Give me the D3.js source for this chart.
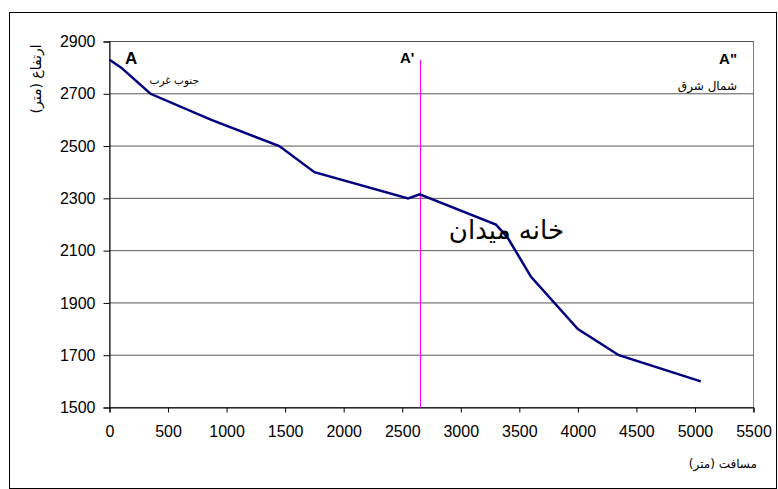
<!DOCTYPE html>
<html>
<head>
<meta charset="utf-8">
<script src="https://cdn.jsdelivr.net/npm/d3@7"></script>
<style>
  body { margin: 0; background: #fff; }
  svg { font-family: "Liberation Sans", Arial, sans-serif; }
</style>
</head>
<body>
<svg width="778" height="489"></svg>
<script>
// **** Data ****
var distance = [0, 100, 350, 870, 1450, 1750, 2550, 2650, 3300, 3400, 3600, 4000, 4350, 5050];
var elevation = [2830, 2800, 2700, 2600, 2500, 2400, 2300, 2315, 2200, 2150, 2000, 1800, 1700, 1600];
var xTicks = [0, 500, 1000, 1500, 2000, 2500, 3000, 3500, 4000, 4500, 5000, 5500];
var yTicks = [1500, 1700, 1900, 2100, 2300, 2500, 2700, 2900];
var sectionAt = 2650;

// **** Scales ****
var xScale = d3.scaleLinear().domain([0, 5500]).range([109.5, 753.5]);
var yScale = d3.scaleLinear().domain([1500, 2900]).range([407.5, 41.5]);

var svg = d3.select('svg');

// outer frame
svg.append('rect')
    .attr('x', 9.5).attr('y', 12.5)
    .attr('width', 767).attr('height', 476)
    .attr('fill', 'none').attr('stroke', '#000').attr('stroke-width', 1);

// plot area border
svg.append('rect')
    .attr('x', xScale(0)).attr('y', yScale(2900))
    .attr('width', xScale(5500) - xScale(0))
    .attr('height', yScale(1500) - yScale(2900))
    .attr('fill', 'none').attr('stroke', '#808080').attr('stroke-width', 1);

// gridlines
svg.append('g').selectAll('line')
    .data(yTicks)
    .enter().append('line')
    .attr('x1', xScale(0)).attr('x2', xScale(5500))
    .attr('y1', d => yScale(d)).attr('y2', d => yScale(d))
    .attr('stroke', '#555').attr('stroke-width', 1);

// axes
var xAxis = svg.append('g').attr('class', 'x axis')
    .attr('transform', 'translate(0,' + yScale(1500) + ')')
    .call(d3.axisBottom(xScale).tickValues(xTicks).tickSize(5).tickPadding(13).tickFormat(d => d));

var yAxis = svg.append('g').attr('class', 'y axis')
    .attr('transform', 'translate(' + xScale(0) + ',0)')
    .call(d3.axisLeft(yScale).tickValues(yTicks).tickSize(6).tickPadding(8).tickFormat(d => d));

[xAxis, yAxis].forEach(function(a) {
    a.select('.domain').attr('stroke', '#000');
    a.selectAll('.tick line').attr('stroke', '#000');
    a.selectAll('.tick text').attr('font-size', 16).attr('fill', '#000')
        .attr('font-family', '"Liberation Sans", Arial, sans-serif');
});

// section line A'
var sx = Math.round(xScale(sectionAt)) + 0.5;
svg.append('line')
    .attr('x1', sx).attr('x2', sx)
    .attr('y1', 60).attr('y2', yScale(1500))
    .attr('stroke', '#ff00ff').attr('stroke-width', 1);

// profile line
var line = d3.line()
    .x((d, i) => xScale(distance[i]))
    .y(d => yScale(d));

svg.append('path')
    .datum(elevation)
    .attr('d', line)
    .attr('fill', 'none')
    .attr('stroke', '#000080')
    .attr('stroke-width', 2.5);

// labels
svg.append('text').attr('x', 125).attr('y', 64)
    .attr('font-size', 17).attr('font-weight', 'bold').text('A');
svg.append('text').attr('x', 400).attr('y', 63)
    .attr('font-size', 15).attr('font-weight', 'bold').text("A'");
svg.append('text').attr('x', 737).attr('y', 64)
    .attr('font-size', 15).attr('font-weight', 'bold').attr('text-anchor', 'end').text('A"');

svg.append('text').attr('x', 199).attr('y', 84)
    .attr('font-size', 10.5).attr('text-anchor', 'end').attr('font-family', '"DejaVu Sans", sans-serif')
    .text('جنوب غرب');
svg.append('text').attr('x', 737).attr('y', 90)
    .attr('font-size', 12).attr('text-anchor', 'end').attr('font-family', '"DejaVu Sans", sans-serif')
    .text('شمال شرق');

svg.append('text').attr('x', 564).attr('y', 239)
    .attr('font-size', 26).attr('text-anchor', 'end').attr('font-family', '"DejaVu Sans", sans-serif')
    .text('خانه میدان');

// axis titles
svg.append('text').attr('x', 757).attr('y', 468)
    .attr('font-size', 12).attr('text-anchor', 'end').attr('font-family', '"DejaVu Sans", sans-serif')
    .text('مسافت (متر)');

svg.append('text')
    .attr('transform', 'translate(41,79) rotate(-90)')
    .attr('font-size', 14).attr('text-anchor', 'middle').attr('font-family', '"DejaVu Sans", sans-serif')
    .text('ارتفاع (متر)');
</script>
</body>
</html>
